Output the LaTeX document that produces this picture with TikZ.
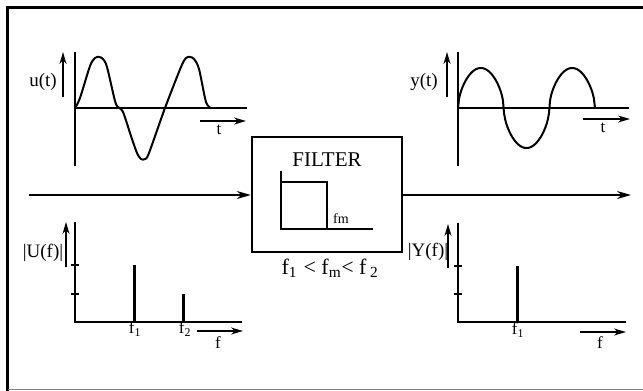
\documentclass[tikz,border=0pt]{standalone}
\usepackage{fontspec}
\setmainfont{Liberation Serif}
\usetikzlibrary{arrows.meta}
\tikzset{
  ax/.style={line width=1.8pt},
  lbl/.style={inner sep=0pt, font=\fontsize{19}{21}\selectfont},
  small/.style={inner sep=0pt, font=\fontsize{17}{19}\selectfont},
  arr/.style={line width=1.6pt, -{Stealth[length=12pt,width=7pt]}},
  bigarr/.style={line width=1.8pt, -{Stealth[length=14pt,width=8pt]}},
  spike/.style={line width=3pt},
  wave/.style={line width=2pt, line join=round},
  tick/.style={line width=1.5pt}
}
\begin{document}
\begin{tikzpicture}[x=1pt,y=-1pt]
\useasboundingbox (0,0) rectangle (643,391);
% frame
\draw[line width=3.5pt] (7.5,391) -- (7.5,7.5) -- (643,7.5);
\draw[line width=1pt, gray] (7.5,389.5) -- (643,389.5);

% ---------- u(t) ----------
\coordinate (uo) at (75,108);
\coordinate (utop) at (75,52);
\coordinate (ubot) at (75,166);
\coordinate (uend) at (247,108);
\draw[ax] (utop) -- (ubot);
\draw[ax] (uo) -- (uend);
\draw[wave] plot[smooth, tension=0.5] coordinates {(75,108) (80,98) (90,66) (95,58) (99,57) (103,59) (107,67) (115,101) (118,107) (123,112) (131,136) (137,153) (141,159) (145,159) (149,153) (165,108) (181,67) (186,58) (190,57) (194,59) (199,69) (206,102) (211,108)};
\node[lbl] (ulab) at (43,82) {u(t)};
\coordinate (ua1) at (63,97); \coordinate (ua2) at (63,52);
\draw[arr] (ua1) -- (ua2);
\coordinate (ut1) at (200,121); \coordinate (ut2) at (246,121);
\draw[arr] (ut1) -- (ut2);
\node[small] (utl) at (219,130) {t};

% ---------- y(t) ----------
\coordinate (yo) at (458,108);
\coordinate (ytop) at (458,52);
\coordinate (ybot) at (458,166);
\coordinate (yend) at (629,108);
\draw[ax] (ytop) -- (ybot);
\draw[ax] (yo) -- (yend);
\draw[wave] plot[domain=0:540, samples=120] ({458+\x/540*137},{108-40*sign(sin(\x))*pow(abs(sin(\x))+0.00001,0.55)});
\node[lbl] (ylab) at (424,82) {y(t)};
\coordinate (ya1) at (447,97); \coordinate (ya2) at (447,52);
\draw[arr] (ya1) -- (ya2);
\coordinate (yt1) at (583,119); \coordinate (yt2) at (630,119);
\draw[arr] (yt1) -- (yt2);
\node[small] (ytl) at (603,128) {t};

% ---------- filter ----------
\node[draw, line width=2.5pt, minimum width=150pt, minimum height=115pt, inner sep=0pt] (filter) at (327,194.5) {};
\node[inner sep=0pt, font=\fontsize{21}{23}\selectfont] (ftxt) at (327,160) {FILTER};
\draw[line width=2pt] (281,171) -- (281,229) -- (373,229);
\draw[line width=2pt] (281,182) -- (327,182) -- (327,229);
\node[inner sep=0pt, font=\fontsize{14}{16}\selectfont] (fm) at (341,219) {fm};
\node[inner sep=0pt, font=\fontsize{22}{24}\selectfont] (cond) at (330,268) {f\textsubscript{1} \kern1pt< f\textsubscript{m}< f\,\textsubscript{2}};
\coordinate (in) at (29,195);
\coordinate (out) at (631,195);
\draw[bigarr] (in) -- (in -| filter.west);
\draw[bigarr] (out -| filter.east) -- (out);

% ---------- |U(f)| ----------
\coordinate (Uo) at (75,322);
\coordinate (Utop) at (75,222);
\coordinate (Uend) at (242,322);
\draw[ax] (Utop) -- (Uo) -- (Uend);
\draw[tick] (71,265) -- (79,265);
\draw[tick] (71,294) -- (79,294);
\draw[spike] (134,265) -- (134,322);
\draw[spike] (183,294) -- (183,322);
\node[lbl] (Ulab) at (43,253) {|U(f)|};
\coordinate (Ua1) at (66,267); \coordinate (Ua2) at (66,222);
\draw[arr] (Ua1) -- (Ua2);
\node[small] (Uf1) at (135,329) {f\textsubscript{1}};
\node[small] (Uf2) at (185,329) {f\textsubscript{2}};
\coordinate (Uf_1) at (197,331); \coordinate (Uf_2) at (243,331);
\draw[arr] (Uf_1) -- (Uf_2);
\node[small] (Ufl) at (218,343) {f};

% ---------- |Y(f)| ----------
\coordinate (Yo) at (458,322);
\coordinate (Ytop) at (458,223);
\coordinate (Yend) at (626,322);
\draw[ax] (Ytop) -- (Yo) -- (Yend);
\draw[tick] (454,266) -- (462,266);
\draw[tick] (454,294) -- (462,294);
\draw[spike] (517,266) -- (517,322);
\node[lbl] (Ylab) at (428,252) {|Y(f)|};
\coordinate (Ya1) at (448,268); \coordinate (Ya2) at (448,224);
\draw[arr] (Ya1) -- (Ya2);
\node[small] (Yf1) at (518,330) {f\textsubscript{1}};
\coordinate (Yf_1) at (580,332); \coordinate (Yf_2) at (626,332);
\draw[arr] (Yf_1) -- (Yf_2);
\node[small] (Yfl) at (600,343) {f};
\end{tikzpicture}
\end{document}
